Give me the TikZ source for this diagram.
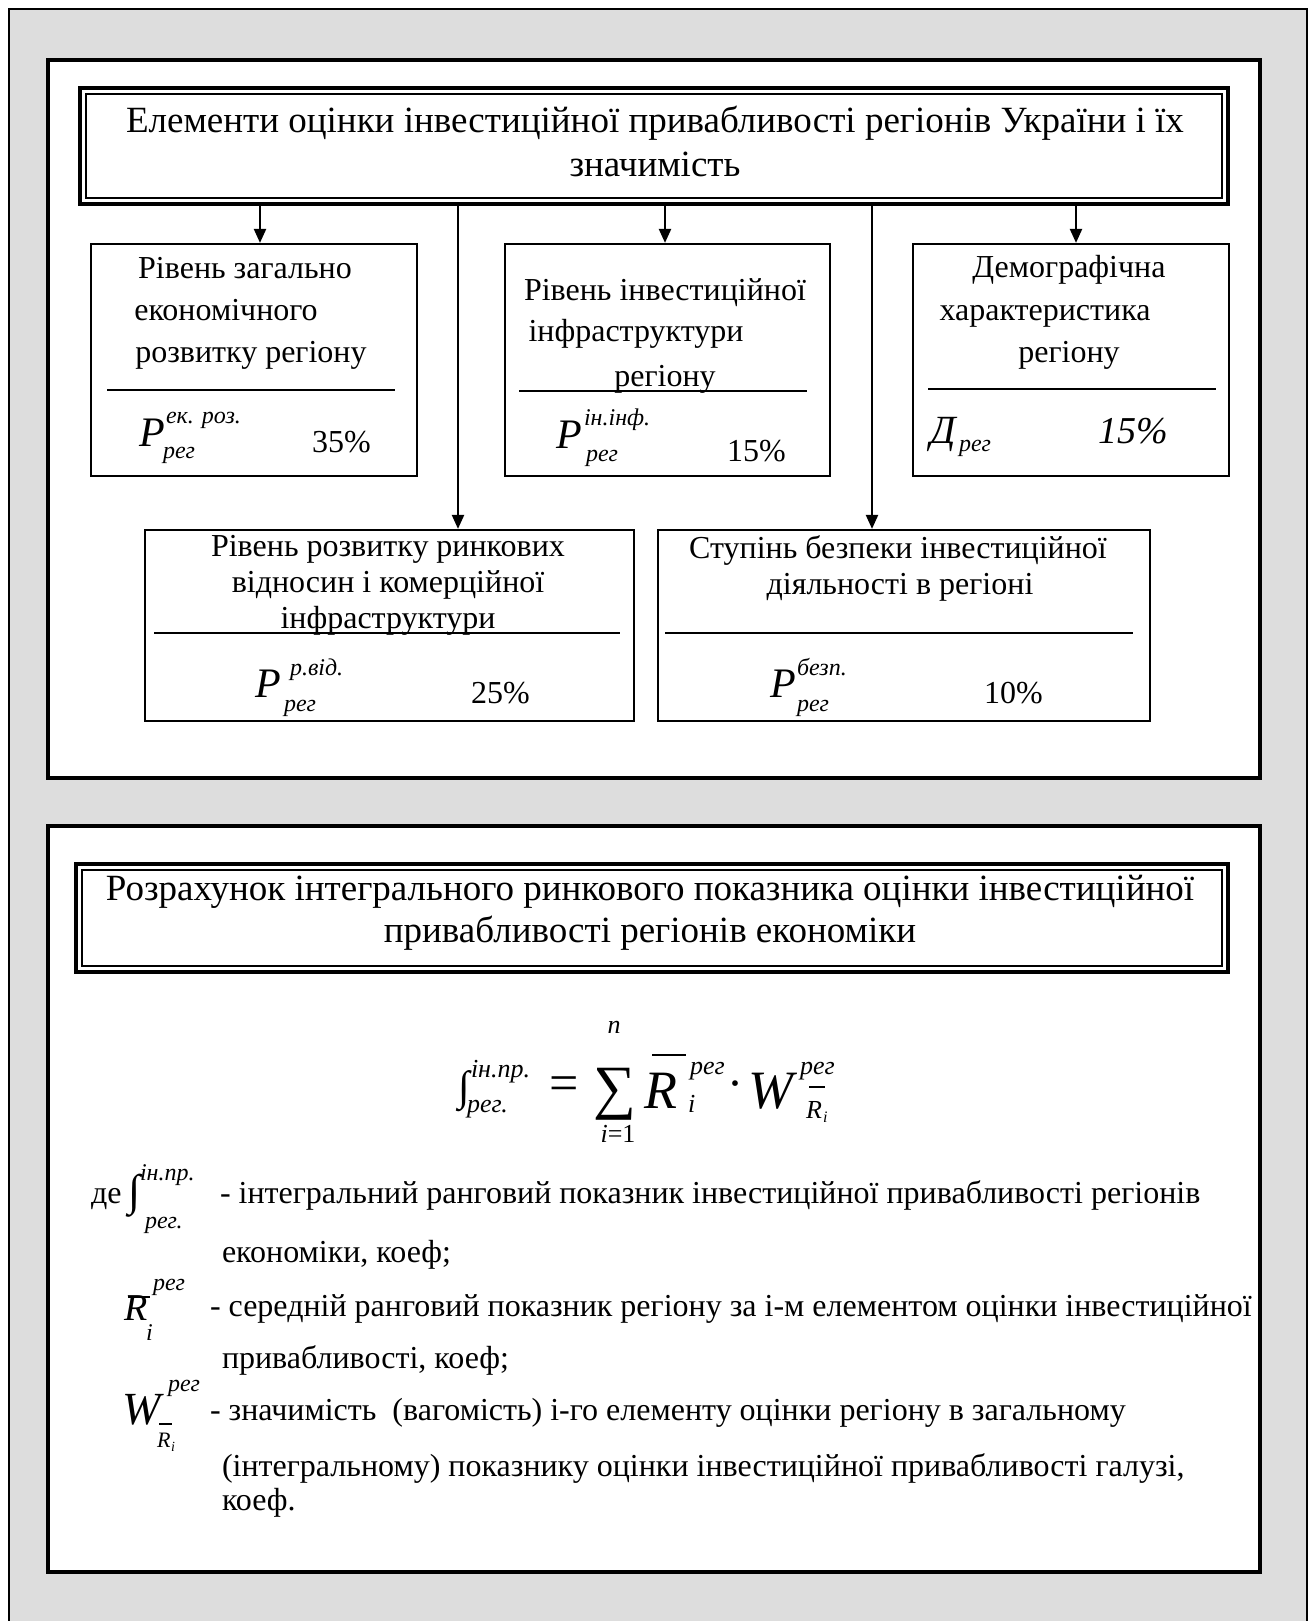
\documentclass[tikz,border=0pt]{standalone}
\usepackage{fontspec}
\setmainfont{Liberation Serif}
\usetikzlibrary{arrows.meta}
\definecolor{bggray}{HTML}{DDDDDD}
\newcommand{\myfs}[1]{\fontsize{#1}{#1}\selectfont}
\begin{document}
\begin{tikzpicture}[x=1pt,y=-1pt,
  panel/.style={draw, line width=4.5pt, fill=white, inner sep=0pt, outer sep=0pt},
  ttlbox/.style={draw, line width=3.5pt, fill=white, inner sep=0pt, outer sep=0pt},
  ttlinner/.style={line width=1.8pt},
  elbox/.style={draw, line width=2.2pt, fill=white, inner sep=0pt},
  sepline/.style={line width=2pt},
  conn/.style={line width=2.2pt, -{Triangle[width=12pt,length=14pt]}},
  barline/.style={line width=1.6pt},
  lbl/.style={inner sep=0pt, outer sep=0pt},
  tc/.style={lbl, anchor=base, font=\myfs{32}},
  tl/.style={lbl, anchor=base west, font=\myfs{32}},
  ttl/.style={lbl, anchor=base, font=\myfs{37}},
  bigit/.style={lbl, anchor=base west, font=\myfs{42}\itshape},
  smit/.style={lbl, anchor=base west, font=\myfs{24}\itshape},
  fit/.style={lbl, anchor=base west, font=\myfs{54}\itshape},
  fsm/.style={lbl, anchor=base west, font=\myfs{26}\itshape}
]
\useasboundingbox (0,0) rectangle (1313,1621);
% outer gray frame
\fill[bggray] (9,9) rectangle (1307,1621);
\draw[line width=1.5pt] (9,1621) -- (9,9) -- (1307,9) -- (1307,1621);

% panels
\node[panel, minimum width=1212pt, minimum height=718pt] (pan1) at (654,419) {};
\node[panel, minimum width=1212pt, minimum height=746pt] (pan2) at (654,1199) {};

% ===== Panel 1 =====
\node[ttlbox, minimum width=1148pt, minimum height=116pt] (ttl1) at (654,146) {};
\draw[ttlinner] ([shift={(6pt,-6pt)}]ttl1.north west) rectangle ([shift={(-6pt,6pt)}]ttl1.south east);
\node[ttl] (ttl1a) at (655,133) {Елементи оцінки інвестиційної привабливості регіонів України і їх};
\node[ttl] (ttl1b) at (655,177) {значимість};

\node[elbox, minimum width=326pt, minimum height=232pt] (boxA) at (254,360) {};
\node[elbox, minimum width=325pt, minimum height=232pt] (boxB) at (667.5,360) {};
\node[elbox, minimum width=316pt, minimum height=232pt] (boxC) at (1071,360) {};
\node[elbox, minimum width=489pt, minimum height=191pt] (boxD) at (389.5,625.5) {};
\node[elbox, minimum width=492pt, minimum height=191pt] (boxE) at (904,625.5) {};

% connectors
\coordinate (cxA) at (260,0);
\coordinate (cxD) at (458,0);
\coordinate (cxB) at (665,0);
\coordinate (cxE) at (872,0);
\coordinate (cxC) at (1076,0);
\draw[conn] (cxA |- ttl1.south) -- (cxA |- boxA.north);
\draw[conn] (cxD |- ttl1.south) -- (cxD |- boxD.north);
\draw[conn] (cxB |- ttl1.south) -- (cxB |- boxB.north);
\draw[conn] (cxE |- ttl1.south) -- (cxE |- boxE.north);
\draw[conn] (cxC |- ttl1.south) -- (cxC |- boxC.north);

% box A
\node[tc] (a1) at (245,278) {Рівень загально};
\node[tc] (a2) at (226,320) {економічного};
\node[tc] (a3) at (251,362) {розвитку регіону};
\draw[sepline] (107,390) -- (395,390);
\node[bigit] (pA) at (139,446) {P};
\node[smit] (pAsup) at (166,423) {ек. роз.};
\node[smit] (pAsub) at (163,458) {рег};
\node[tl] (pAval) at (312,452) {35\%};

% box B
\node[tc] (b1) at (665,300) {Рівень інвестиційної};
\node[tc] (b2) at (636,341) {інфраструктури};
\node[tc] (b3) at (665,386) {регіону};
\draw[sepline] (519,391) -- (807,391);
\node[bigit] (pB) at (556,448) {P};
\node[smit] (pBsup) at (584,425) {ін.інф.};
\node[smit] (pBsub) at (586,461) {рег};
\node[tl] (pBval) at (727,461) {15\%};

% box C
\node[tc] (c1) at (1069,277) {Демографічна};
\node[tc] (c2) at (1045,320) {характеристика};
\node[tc] (c3) at (1069,362) {регіону};
\draw[sepline] (928,389) -- (1216,389);
\node[lbl, anchor=base west, font=\myfs{40}\itshape] (dC) at (930,443) {Д};
\node[smit] (dCsub) at (959,451) {рег};
\node[lbl, anchor=base west, font=\myfs{38}\itshape] (dCval) at (1098,443) {15\%};

% box D
\node[tc] (d1) at (388,556) {Рівень розвитку ринкових};
\node[tc] (d2) at (388,592) {відносин і комерційної};
\node[tc] (d3) at (388,628) {інфраструктури};
\draw[sepline] (154,633) -- (620,633);
\node[bigit] (pD) at (255,697) {P};
\node[smit] (pDsup) at (290,675) {р.від.};
\node[smit] (pDsub) at (284,711) {рег};
\node[tl] (pDval) at (471,703) {25\%};

% box E
\node[tc] (e1) at (898,558) {Ступінь безпеки інвестиційної};
\node[tc] (e2) at (900,594) {діяльності в регіоні};
\draw[sepline] (665,633) -- (1133,633);
\node[bigit] (pE) at (770,697) {P};
\node[smit] (pEsup) at (797,675) {безп.};
\node[smit] (pEsub) at (797,711) {рег};
\node[tl] (pEval) at (984,703) {10\%};

% ===== Panel 2 =====
\node[ttlbox, minimum width=1152pt, minimum height=108pt] (ttl2) at (652,918) {};
\draw[ttlinner] ([shift={(6pt,-6pt)}]ttl2.north west) rectangle ([shift={(-6pt,6pt)}]ttl2.south east);
\node[ttl] (ttl2a) at (650,900) {Розрахунок інтегрального ринкового показника оцінки інвестиційної};
\node[ttl] (ttl2b) at (650,942) {привабливості регіонів економіки};

% formula
\node[lbl, anchor=base west, font=\myfs{42}] (fint) at (458,1100) {∫};
\node[fsm] (fintsup) at (471,1077) {ін.пр.};
\node[fsm] (fintsub) at (467,1112) {рег.};
\node[lbl, anchor=base, font=\myfs{52}] (feq) at (564,1100) {=};
\node[lbl, anchor=base, font=\myfs{60}] (fsig) at (615,1107) {∑};
\node[lbl, anchor=base, font=\myfs{26}\itshape] (fsn) at (614,1033) {n};
\node[lbl, anchor=base, font=\myfs{26}] (fsi) at (618,1142) {\textit{i}=1};
\node[fit] (fR) at (644,1108) {R};
\draw[barline] (652,1055) -- (686,1055);
\node[fsm] (fRsup) at (690,1074) {рег};
\node[fsm] (fRsub) at (688,1112) {i};
\node[lbl, anchor=base, font=\myfs{48}] (fdot) at (735,1099) {·};
\node[fit] (fW) at (748,1108) {W};
\node[fsm] (fWsup) at (800,1074) {рег};
\draw[barline] (809,1087) -- (825,1087);
\node[lbl, anchor=base west, font=\myfs{26}\itshape] (fWR) at (806,1118) {R};
\node[lbl, anchor=base west, font=\myfs{16}\itshape] (fWi) at (823,1122) {i};

% explanations
\node[tl] (de) at (91,1203) {де};
\node[lbl, anchor=base west, font=\myfs{44}] (xint) at (128,1205) {∫};
\node[smit] (xintsup) at (140,1180) {ін.пр.};
\node[smit] (xintsub) at (145,1228) {рег.};
\node[tl] (x1) at (220,1203) {- інтегральний ранговий показник інвестиційної привабливості регіонів};
\node[tl] (x1b) at (222,1262) {економіки, коеф;};

\node[lbl, anchor=base west, font=\myfs{38}\itshape] (xR) at (124,1320) {R};
\draw[barline] (128,1297) -- (150,1297);
\node[smit] (xRsup) at (153,1290) {рег};
\node[smit] (xRsub) at (146,1340) {i};
\node[tl] (x2) at (210,1316) {- середній ранговий показник регіону за і-м елементом оцінки інвестиційної};
\node[tl] (x2b) at (222,1368) {привабливості, коеф;};

\node[lbl, anchor=base west, font=\myfs{46}\itshape] (xW) at (122,1424) {W};
\node[smit] (xWsup) at (168,1391) {рег};
\draw[barline] (159,1424) -- (172,1424);
\node[lbl, anchor=base west, font=\myfs{22}\itshape] (xWR) at (157,1447) {R};
\node[lbl, anchor=base west, font=\myfs{14}\itshape] (xWi) at (171,1451) {i};
\node[tl] (x3) at (210,1420) {- значимість\ \ (вагомість) і-го елементу оцінки регіону в загальному};
\node[tl] (x3b) at (222,1476) {(інтегральному) показнику оцінки інвестиційної привабливості галузі,};
\node[tl] (x3c) at (222,1510) {коеф.};
\end{tikzpicture}
\end{document}
